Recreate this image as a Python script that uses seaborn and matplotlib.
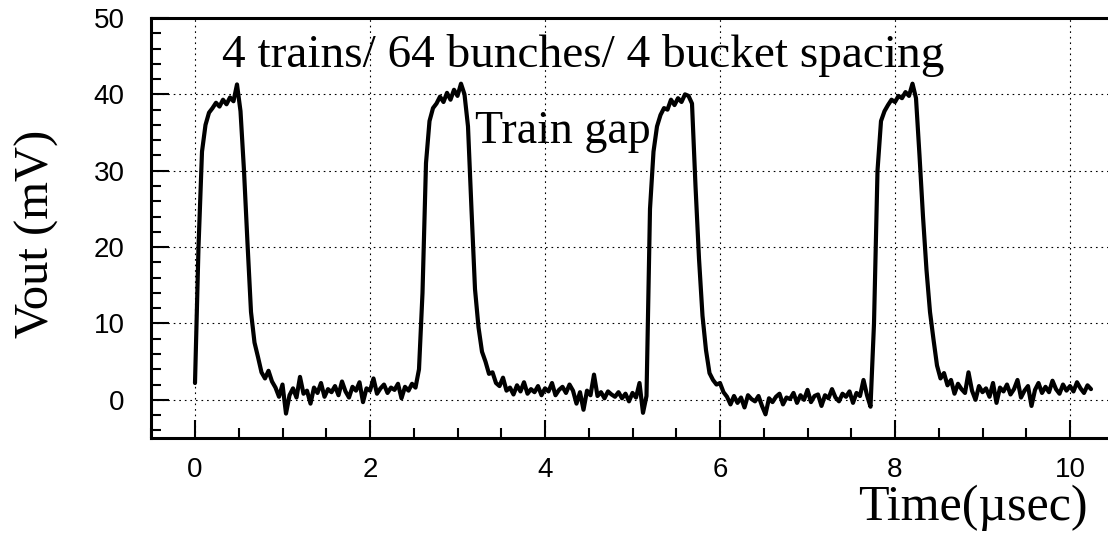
import numpy as np
import matplotlib
matplotlib.use("Agg")
from matplotlib import pyplot as plt
from matplotlib.ticker import MultipleLocator
import seaborn as sns

# scope trace, one sample every 0.04 usec from 0 to 10.24 usec
dt = 0.04
vout = [
    2.2, 20.0, 32.5, 36.0, 37.6, 38.2, 38.9, 38.4, 39.3, 38.7,
    39.6, 39.1, 41.3, 37.8, 30.0, 20.5, 11.5, 7.5, 5.6, 3.6,
    2.8, 3.8, 2.4, 1.6, 0.4, 2.0, -1.8, 0.6, 1.5, 0.3,
    3.0, 0.8, 1.2, -0.5, 1.6, 0.9, 2.2, 0.4, 1.4, 1.0,
    1.8, 0.6, 2.4, 1.1, 0.3, 1.7, 1.2, 2.3, -0.3, 1.5,
    1.2, 2.8, 0.8, 1.5, 2.0, 0.9, 1.6, 1.3, 2.1, 0.2,
    1.7, 1.2, 2.1, 1.6, 4.0, 14.0, 31.0, 36.5, 38.2, 38.8,
    39.7, 39.0, 40.2, 39.3, 40.6, 39.8, 41.4, 40.0, 35.8, 24.9,
    14.5, 9.5, 6.3, 5.0, 3.4, 3.6, 2.2, 1.8, 2.9, 1.2,
    1.6, 0.7, 1.9, 1.1, 2.3, 0.8, 1.4, 1.0, 1.8, 0.6,
    1.5, 1.1, 2.2, 0.6, 1.3, 1.7, 0.9, 2.0, 1.2, -0.5,
    1.0, -1.3, 1.2, 0.6, 3.3, 0.5, 1.0, 0.2, 1.1, 0.7,
    0.4, 1.0, 0.2, 0.8, -0.2, 0.9, 0.3, 2.2, -1.7, 0.5,
    25.0, 32.5, 35.8, 37.3, 38.2, 38.0, 39.3, 38.6, 39.5, 39.0,
    40.0, 39.8, 38.8, 28.0, 18.5, 11.0, 6.5, 3.5, 2.6, 2.0,
    2.2, 1.0, 0.4, -0.6, 0.5, -0.4, 0.3, -1.0, 0.6, 0.1,
    -0.2, 0.5, -0.8, -1.9, 0.2, -0.3, 0.4, 0.8, -0.6, 0.3,
    0.1, 0.9, -0.4, 0.6, 0.0, 1.3, -0.3, 0.5, 0.7, -0.8,
    0.6, 0.2, 1.4, 0.3, -0.2, 0.8, 0.4, 1.1, -0.4, 0.9,
    0.5, 2.6, 0.6, -0.9, 10.0, 30.0, 36.5, 37.8, 38.6, 39.3,
    39.0, 39.8, 39.5, 40.3, 39.8, 41.4, 39.5, 32.0, 24.0, 17.0,
    11.5, 7.9, 4.5, 2.8, 3.5, 1.9, 2.6, 0.8, 2.1, 1.4,
    0.9, 3.6, 1.2, 0.0, 1.8, 1.0, 1.5, 0.4, 2.2, -0.4,
    1.6, 1.1, 2.0, 0.7, 1.4, 2.6, 0.3, 1.2, 1.8, -0.8,
    1.3, 2.2, 0.9, 1.7, 1.0, 2.5, 1.4, 0.8, 2.0, 1.2,
    1.8, 1.1, 2.3, 1.5, 0.9, 1.9, 1.4,
]
time = np.round(np.arange(len(vout)) * dt, 2)

xticks = [0, 2, 4, 6, 8, 10]
yticks = [0, 10, 20, 30, 40, 50]
title_text = "4 trains/ 64 bunches/ 4 bucket spacing"
gap_text = "Train gap"

sns.set_style("white")
plt.rcParams['font.family'] = ['Liberation Sans', 'DejaVu Sans']
plt.rcParams['text.color'] = 'black'
serif = ['Liberation Serif', 'DejaVu Serif']

fig = plt.figure(figsize=(11.08, 5.36), dpi=100)
ax = fig.add_axes([151.25 / 1108, (536 - 438) / 536,
                   (1113.75 - 151.25) / 1108, 420 / 536])

sns.lineplot(x=time, y=vout, ax=ax, color='black', lw=3.0, sort=False)

ax.set_xlim(-0.5, 10.5)
ax.set_ylim(-5, 50)
ax.set_xticks(xticks)
ax.set_yticks(yticks)
ax.xaxis.set_minor_locator(MultipleLocator(0.5))
ax.yaxis.set_minor_locator(MultipleLocator(2))
ax.tick_params(which='both', direction='in', colors='black', width=1.5,
               labelsize=20, top=False, right=False, bottom=True, left=True)
ax.tick_params(which='major', length=13)
ax.tick_params(which='minor', length=7)
ax.tick_params(axis='x', which='major', pad=14)
ax.tick_params(axis='y', which='major', pad=19)

ax.grid(True, which='major', color='black', lw=0.8, ls=(0, (1.5, 3.5)))
ax.set_axisbelow(True)

for side in ['left', 'bottom', 'top']:
    ax.spines[side].set_color('black')
    ax.spines[side].set_linewidth(2.2)
ax.spines['right'].set_visible(False)

ax.text(0.31, 43.6, title_text, family=serif, fontsize=34, color='black',
        ha='left', va='baseline')
ax.text(3.2, 33.6, gap_text, family=serif, fontsize=33, color='black',
        ha='left', va='baseline')

fig.text(37 / 1108, 1 - 234 / 536, "Vout (mV)", family=serif, fontsize=35,
         color='black', rotation=90, ha='center', va='center')
fig.text(1088 / 1108, 1 - 520 / 536, "Time(\u00b5sec)", family=serif,
         fontsize=36, color='black', ha='right', va='baseline')

fig.savefig('out.png', dpi=100)
